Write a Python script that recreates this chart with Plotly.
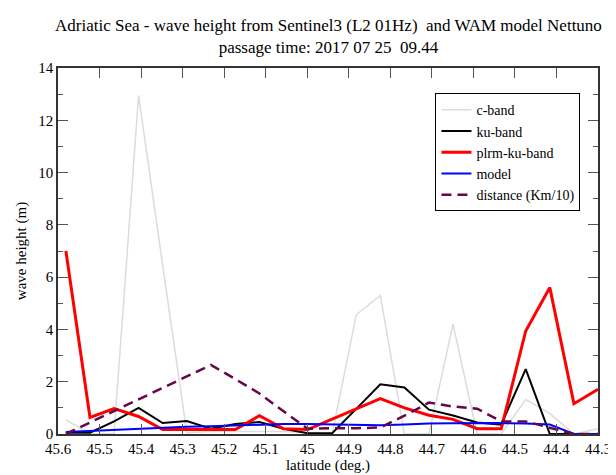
import plotly.graph_objects as go

latitude = [45.581, 45.523, 45.465, 45.406, 45.348, 45.290, 45.232, 45.173, 45.115, 45.057,
            44.999, 44.940, 44.882, 44.824, 44.766, 44.707, 44.649, 44.591, 44.533, 44.474,
            44.416, 44.358, 44.300]
c_band = [0.54, 0.0, 0.02, 12.95, 6.45, 0.05, 0.1, 0.1, 0.1, 0.1, 0.05, 0.0, 4.56, 5.3, 0.0,
          0.0, 4.2, 0.0, 0.0, 1.32, 0.79, 0.0, 0.2]
ku_band = [0.05, 0.05, 0.48, 1.0, 0.42, 0.5, 0.2, 0.38, 0.46, 0.2, 0.03, 0.03, 0.96, 1.9,
           1.78, 0.93, 0.71, 0.44, 0.36, 2.48, 0.0, 0.0, 0.0]
plrm_ku_band = [7.0, 0.63, 0.97, 0.67, 0.17, 0.17, 0.17, 0.17, 0.7, 0.2, 0.17, 0.56, 0.95,
                1.35, 1.0, 0.72, 0.56, 0.2, 0.2, 3.94, 5.6, 1.16, 1.71]
model = [0.08, 0.12, 0.17, 0.22, 0.25, 0.28, 0.3, 0.33, 0.37, 0.38, 0.38, 0.37, 0.35, 0.33,
         0.36, 0.4, 0.41, 0.42, 0.42, 0.4, 0.36, 0.0, 0.0]
distance = [0.0, 0.44, 0.88, 1.32, 1.76, 2.2, 2.64, 2.1, 1.55, 0.87, 0.2, 0.22, 0.22, 0.25,
            0.7, 1.2, 1.05, 0.97, 0.48, 0.48, 0.24, 0.0, 0.0]

x_tickvals = [45.6, 45.5, 45.4, 45.3, 45.2, 45.1, 45.0, 44.9, 44.8, 44.7, 44.6, 44.5, 44.4, 44.3]
x_ticktext = ["45.6", "45.5", "45.4", "45.3", "45.2", "45.1", "45", "44.9", "44.8", "44.7",
              "44.6", "44.5", "44.4", "44.3"]
y_tickvals = [0, 2, 4, 6, 8, 10, 12, 14]

title_lines = ["Adriatic Sea - wave height from Sentinel3 (L2 01Hz)  and WAM model Nettuno",
               "passage time: 2017 07 25  09.44"]

FONT = "Liberation Serif"

fig = go.Figure()
fig.add_trace(go.Scatter(x=latitude, y=c_band, mode="lines", name="c-band",
                         line=dict(color="rgb(220,220,220)", width=1.5)))
fig.add_trace(go.Scatter(x=latitude, y=ku_band, mode="lines", name="ku-band",
                         line=dict(color="black", width=2)))
fig.add_trace(go.Scatter(x=latitude, y=plrm_ku_band, mode="lines", name="plrm-ku-band",
                         line=dict(color="rgb(255,0,0)", width=3)))
fig.add_trace(go.Scatter(x=latitude, y=model, mode="lines", name="model",
                         line=dict(color="rgb(0,0,255)", width=2)))
fig.add_trace(go.Scatter(x=latitude, y=distance, mode="lines", name="distance (Km/10)",
                         line=dict(color="rgb(103,7,72)", width=2.5, dash="10px,6px")))

fig.add_annotation(text="<br>".join(title_lines), x=0.5, xref="paper", xanchor="center",
                   y=1.025, yref="paper", yanchor="bottom", showarrow=False,
                   font=dict(family=FONT, size=17, color="black"), align="center")

fig.update_layout(
    width=616, height=475,
    margin=dict(l=48, r=26, t=60, b=37),
    paper_bgcolor="white", plot_bgcolor="white",
    font=dict(family=FONT, color="black", size=15),
    legend=dict(x=0.699, y=0.931, xanchor="left", yanchor="top",
                bordercolor="black", borderwidth=1, bgcolor="white",
                font=dict(family=FONT, size=14, color="black"), tracegroupgap=0),
    showlegend=True,
)
fig.update_xaxes(range=[45.6, 44.3], tickvals=x_tickvals, ticktext=x_ticktext,
                 showgrid=False, zeroline=False, showline=True, linecolor="#333",
                 linewidth=1.5, mirror="ticks", ticks="inside", ticklen=10, tickwidth=1,
                 tickcolor="#555", tickfont=dict(size=15),
                 title=dict(text="latitude (deg.)", font=dict(size=15), standoff=4))
fig.update_yaxes(range=[0, 14], tickvals=y_tickvals, showgrid=False, zeroline=False,
                 showline=True, linecolor="#333", linewidth=1.5, mirror="ticks",
                 ticks="inside", ticklen=10, tickwidth=1, tickcolor="#555",
                 tickfont=dict(size=15),
                 minor=dict(dtick=1, ticks="inside", ticklen=5, tickcolor="#555", showgrid=False),
                 title=dict(text="wave height (m)", font=dict(size=15), standoff=8))

fig.write_html("out.html")
